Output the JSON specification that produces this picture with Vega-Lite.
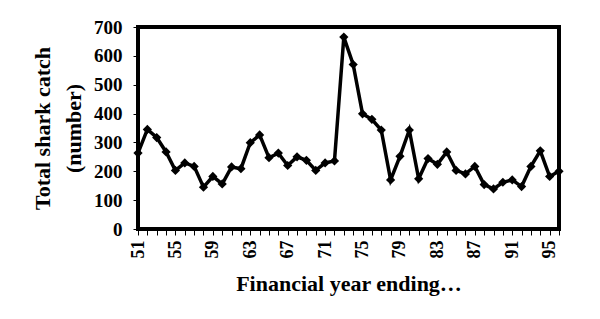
{
  "$schema": "https://vega.github.io/schema/vega-lite/v6.json",
  "autosize": {"type": "none"},
  "padding": {"left": 138, "top": 27, "right": 41, "bottom": 90},
  "width": 421,
  "height": 202,
  "background": "white",
  "config": {
    "view": {"stroke": "black", "strokeWidth": 4},
    "font": "Liberation Serif"
  },
  "data": {
    "values": [
      {"year": 51, "catch": 263}, {"year": 52, "catch": 345}, {"year": 53, "catch": 317},
      {"year": 54, "catch": 267}, {"year": 55, "catch": 203}, {"year": 56, "catch": 229},
      {"year": 57, "catch": 217}, {"year": 58, "catch": 145}, {"year": 59, "catch": 182},
      {"year": 60, "catch": 156}, {"year": 61, "catch": 215}, {"year": 62, "catch": 209},
      {"year": 63, "catch": 299}, {"year": 64, "catch": 326}, {"year": 65, "catch": 247},
      {"year": 66, "catch": 263}, {"year": 67, "catch": 220}, {"year": 68, "catch": 250},
      {"year": 69, "catch": 238}, {"year": 70, "catch": 203}, {"year": 71, "catch": 229},
      {"year": 72, "catch": 236}, {"year": 73, "catch": 665}, {"year": 74, "catch": 570},
      {"year": 75, "catch": 399}, {"year": 76, "catch": 380}, {"year": 77, "catch": 343},
      {"year": 78, "catch": 170}, {"year": 79, "catch": 252}, {"year": 80, "catch": 343},
      {"year": 81, "catch": 174}, {"year": 82, "catch": 244}, {"year": 83, "catch": 224},
      {"year": 84, "catch": 267}, {"year": 85, "catch": 203}, {"year": 86, "catch": 191},
      {"year": 87, "catch": 217}, {"year": 88, "catch": 154}, {"year": 89, "catch": 139},
      {"year": 90, "catch": 162}, {"year": 91, "catch": 170}, {"year": 92, "catch": 147},
      {"year": 93, "catch": 217}, {"year": 94, "catch": 271}, {"year": 95, "catch": 182},
      {"year": 96, "catch": 200}
    ]
  },
  "encoding": {
    "x": {
      "field": "year", "type": "quantitative",
      "scale": {"domain": [51, 96], "nice": false, "zero": false},
      "axis": {
        "title": "Financial year ending…",
        "titleFont": "Liberation Serif", "titleFontSize": 22, "titleFontWeight": "bold",
        "titleColor": "black", "titlePadding": 15,
        "values": [51,52,53,54,55,56,57,58,59,60,61,62,63,64,65,66,67,68,69,70,71,72,73,74,75,76,77,78,79,80,81,82,83,84,85,86,87,88,89,90,91,92,93,94,95,96],
        "labelExpr": "(datum.value - 51) % 4 == 0 ? datum.label : ''",
        "labelOverlap": false,
        "labelAngle": -90, "labelAlign": "right", "labelBaseline": "middle",
        "labelFont": "Liberation Serif", "labelFontSize": 18, "labelFontWeight": "bold",
        "labelColor": "black", "labelPadding": 5,
        "tickColor": "black", "tickSize": 6, "tickWidth": 1,
        "domain": false, "grid": false
      }
    },
    "y": {
      "field": "catch", "type": "quantitative",
      "scale": {"domain": [0, 700], "nice": false},
      "axis": {
        "title": ["Total shark catch", "(number)"],
        "titleFont": "Liberation Serif", "titleFontSize": 22, "titleFontWeight": "bold",
        "titleColor": "black", "titlePadding": 8, "titleLineHeight": 31,
        "values": [0, 100, 200, 300, 400, 500, 600, 700],
        "labelFont": "Liberation Serif", "labelFontSize": 19, "labelFontWeight": "bold",
        "labelColor": "black", "labelPadding": 11,
        "tickColor": "black", "tickSize": 5, "tickWidth": 1,
        "domain": false, "grid": false
      }
    }
  },
  "layer": [
    {"mark": {"type": "line", "color": "black", "strokeWidth": 3.5}},
    {"mark": {"type": "point", "shape": "diamond", "filled": true, "color": "black", "opacity": 1, "size": 85}}
  ]
}
